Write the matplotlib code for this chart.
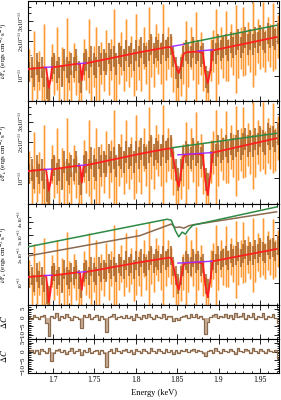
import numpy as np
import matplotlib
matplotlib.use('Agg')
import matplotlib.pyplot as plt
import matplotlib.transforms as mtransforms
from matplotlib.ticker import MultipleLocator, FixedLocator, FixedFormatter, LogLocator, NullFormatter

plt.rcParams['font.family'] = ['Liberation Serif', 'DejaVu Serif']
plt.rcParams['mathtext.fontset'] = 'stix'

# spectrum bins (flux in units of 1e-11 erg cm^-2 s^-1)
e_start = 1.6715
bin_w = 0.003

flux_a = [1.3, 0.9, 1.6, 1.0, 1.2, 0.8, 1.5, 0.7, 0.6, 1.4,
          1.1, 1.7, 0.9, 1.3, 1.0, 1.8, 1.2, 0.8, 1.4, 1.1,
          0.8, 0.7, 1.5, 1.2, 1.9, 1.0, 1.3, 1.6, 0.9, 1.4,
          1.2, 1.8, 1.1, 1.5, 2.2, 1.0, 1.4, 1.7, 1.2, 2.0,
          1.3, 1.6, 1.1, 2.1, 1.5, 1.2, 1.9, 1.4, 2.3, 1.6,
          1.3, 2.0, 1.7, 1.4, 2.4, 1.5, 1.9, 1.6, 1.2, 0.9,
          0.8, 1.1, 1.4, 1.8, 1.3, 1.9, 1.5, 2.1, 1.4, 1.7,
          1.2, 0.8, 0.7, 1.5, 1.8, 2.2, 1.4, 1.9, 1.6, 2.3,
          1.5, 2.0, 1.7, 2.4, 1.6, 1.9, 2.5, 1.7, 2.1, 1.8,
          2.6, 1.7, 2.2, 1.9, 2.8, 1.8, 2.3, 2.0, 2.7, 1.9, 2.4]
err_a = [0.40, 0.35, 0.85, 0.38, 0.45, 0.33, 1.30, 0.30, 0.28, 0.50,
         0.42, 0.95, 0.35, 0.48, 0.40, 1.40, 0.45, 0.33, 0.52, 0.42,
         0.33, 0.30, 0.58, 0.45, 1.20, 0.40, 0.50, 1.05, 0.36, 0.55,
         0.46, 0.70, 0.42, 0.58, 1.60, 0.40, 0.55, 0.68, 0.47, 1.10,
         0.50, 0.62, 0.44, 1.35, 0.58, 0.47, 0.76, 0.55, 1.70, 0.62,
         0.50, 0.80, 0.66, 0.55, 1.80, 0.58, 0.76, 0.62, 0.48, 0.36,
         0.33, 0.44, 0.55, 1.20, 0.50, 0.76, 0.58, 1.50, 0.55, 0.68,
         0.47, 0.33, 0.30, 0.60, 0.72, 1.60, 0.55, 0.76, 0.64, 1.40,
         0.60, 0.80, 0.68, 1.70, 0.64, 0.76, 1.50, 0.68, 0.85, 0.72,
         1.80, 0.68, 0.90, 0.76, 1.60, 0.72, 0.95, 0.80, 1.60, 0.76, 0.98]
flux_b = [1.1, 1.2, 1.0, 1.3, 1.1, 1.2, 1.0, 0.8, 0.75, 1.2,
          1.3, 1.1, 1.2, 1.0, 1.4, 1.2, 1.1, 1.3, 1.2, 1.4,
          1.1, 0.9, 1.3, 1.4, 1.2, 1.5, 1.3, 1.2, 1.5, 1.3,
          1.4, 1.3, 1.6, 1.4, 1.5, 1.3, 1.6, 1.5, 1.4, 1.7,
          1.5, 1.6, 1.4, 1.7, 1.5, 1.8, 1.6, 1.5, 1.7, 1.9,
          1.6, 1.8, 1.7, 1.6, 1.9, 1.7, 1.8, 1.9, 1.5, 1.2,
          1.0, 1.2, 1.5, 1.7, 1.6, 1.5, 1.8, 1.6, 1.7, 1.5,
          1.6, 1.0, 0.9, 1.4, 1.7, 1.6, 1.9, 1.7, 1.8, 1.9,
          1.7, 2.0, 1.8, 1.9, 2.1, 1.8, 2.0, 2.2, 1.9, 2.1,
          1.9, 2.2, 2.0, 2.3, 2.1, 2.0, 2.4, 2.2, 2.3, 2.1, 2.4]
err_b = [0.22, 0.25, 0.20, 0.28, 0.22, 0.25, 0.20, 0.18, 0.17, 0.26,
         0.27, 0.23, 0.25, 0.21, 0.30, 0.25, 0.23, 0.28, 0.25, 0.30,
         0.23, 0.19, 0.28, 0.30, 0.25, 0.32, 0.28, 0.25, 0.32, 0.28,
         0.30, 0.28, 0.34, 0.30, 0.32, 0.28, 0.34, 0.32, 0.30, 0.36,
         0.32, 0.34, 0.30, 0.36, 0.32, 0.38, 0.34, 0.32, 0.36, 0.40,
         0.34, 0.38, 0.36, 0.34, 0.40, 0.36, 0.38, 0.40, 0.32, 0.26,
         0.22, 0.26, 0.32, 0.36, 0.34, 0.32, 0.38, 0.34, 0.36, 0.32,
         0.34, 0.22, 0.20, 0.30, 0.36, 0.34, 0.40, 0.36, 0.38, 0.40,
         0.36, 0.42, 0.38, 0.40, 0.44, 0.38, 0.42, 0.46, 0.40, 0.44,
         0.40, 0.46, 0.42, 0.48, 0.44, 0.42, 0.50, 0.46, 0.48, 0.44, 0.50]

resid_1 = [0.5, -0.8, 1.2, 0.3, -1.0, 0.8, 1.5, -3.0, -10.5, 1.0,
           -0.5, 2.5, -1.2, 0.6, -0.4, 1.8, 0.2, -1.5, 0.9, 0.4,
           -1.0, -6.0, 1.4, 0.2, 2.0, -0.8, 0.5, 1.2, -1.3, 0.7,
           -0.6, -8.0, 0.3, 0.8, 2.2, -1.1, 0.4, 1.0, -0.5, 1.6,
           -0.3, 0.7, -1.4, 1.9, 0.2, -0.6, 1.3, -0.2, 2.1, 0.5,
           -0.7, 1.5, 0.3, -0.4, 2.0, -0.9, 0.6, 1.1, -1.8, -0.5,
           -1.2, 0.4, 0.8, 1.4, -0.3, 1.7, 0.2, 1.9, -0.4, 0.9,
           -0.6, -9.0, -2.5, 0.5, 1.3, 2.2, -0.5, 1.1, 0.4, 2.0,
           -0.3, 1.4, -1.0, 2.3, 0.2, 0.8, 2.4, -0.6, 1.2, 0.3,
           2.5, -0.8, 1.0, 0.4, 2.6, -0.9, 0.9, 0.2, 2.2, -0.4, -3.0]
resid_2 = [0.3, 1.0, -0.6, 0.8, -1.2, 1.4, 0.2, -0.8, 1.8, -5.5,
           -1.0, 0.6, 1.5, -0.4, 0.9, -1.3, 0.5, 2.0, -0.7, 0.3,
           1.2, -2.0, 0.6, -0.5, 1.7, -0.9, 0.4, 1.1, -1.4, 0.6,
           -0.8, -8.5, 0.5, 1.2, -0.6, 1.9, 0.3, -1.0, 0.8, 1.4,
           -0.5, 0.9, -1.2, 1.6, 0.4, -0.8, 1.2, 0.1, -1.1, 1.8,
           0.3, -0.6, 1.4, 0.2, -0.9, 1.6, -0.3, 0.8, -1.5, 0.6,
           -0.8, 0.9, 0.3, 1.3, -0.5, 0.7, 1.5, -0.4, 0.9, 0.2,
           -1.0, -2.5, 0.4, 1.0, -0.6, 1.8, 0.3, -0.7, 1.2, 0.5,
           -0.4, 1.6, 0.2, -1.2, 1.9, 0.4, -0.5, 1.3, 0.6, -0.9,
           1.7, 0.3, -0.6, 1.4, 0.5, -1.0, 1.5, 0.2, -0.3, 1.1, -3.5]

# model curves
red_e = [1.670, 1.690, 1.692, 1.694, 1.695, 1.697, 1.699, 1.730, 1.733, 1.735,
         1.737, 1.740, 1.805, 1.840, 1.843, 1.846, 1.850, 1.852, 1.855, 1.858,
         1.861, 1.875, 1.881, 1.884, 1.887, 1.890, 1.893, 1.970]
red_v1 = [1.14, 1.18, 1.17, 0.90, 0.78, 0.90, 1.18, 1.27, 1.25, 0.91,
          1.25, 1.28, 1.60, 1.78, 1.76, 1.45, 1.12, 1.05, 1.25, 1.55,
          1.60, 1.62, 1.58, 1.05, 0.86, 1.10, 1.66, 2.17]
red_v2 = [1.14, 1.18, 1.17, 0.90, 0.78, 0.90, 1.18, 1.27, 1.25, 0.91,
          1.25, 1.28, 1.60, 1.78, 1.76, 1.40, 0.95, 0.84, 1.15, 1.52,
          1.58, 1.60, 1.56, 0.95, 0.72, 1.05, 1.64, 2.17]
red_v3 = [1.14, 1.18, 1.16, 0.80, 0.64, 0.80, 1.18, 1.27, 1.24, 0.85,
          1.24, 1.28, 1.60, 1.78, 1.76, 1.40, 0.95, 0.85, 1.15, 1.52,
          1.58, 1.60, 1.56, 0.95, 0.72, 1.05, 1.64, 2.17]

purple_e = [[1.690, 1.699], [1.730, 1.740]]
purple_v = [[1.18, 1.19], [1.27, 1.29]]
purple1_e = [[1.844, 1.859], [1.875, 1.893]]
purple1_v = [[1.80, 1.88], [1.64, 1.68]]
purple2_e = [1.851, 1.892]
purple2_v = [1.57, 1.64]

green1_e = [1.859, 1.970]
green1_v = [1.90, 2.75]
green2_e = [1.843, 1.970]
green2_v = [1.80, 2.39]
green3_e = [1.670, 1.805, 1.838, 1.843, 1.848, 1.852, 1.856, 1.860, 1.864, 1.869, 1.970]
green3_v = [2.28, 3.80, 4.30, 4.20, 3.30, 2.87, 3.20, 3.05, 3.40, 3.75, 5.70]
brown3_e = [1.670, 1.805, 1.843, 1.848, 1.853, 1.858, 1.864, 1.869, 1.970]
brown3_v = [1.85, 2.95, 3.85, 3.55, 3.60, 3.50, 3.70, 3.78, 5.10]

energy = e_start + bin_w * np.arange(len(flux_a))
fa, ea = np.array(flux_a) * 1e-11, np.array(err_a) * 1e-11
fb, eb = np.array(flux_b) * 1e-11, np.array(err_b) * 1e-11
sc = 1e-11

fig = plt.figure(figsize=(2.81, 4.0), dpi=100)
left, width = 0.0996, 0.8934
ax1 = fig.add_axes([left, 0.7475, width, 0.2505])
ax2 = fig.add_axes([left, 0.49, width, 0.2575])
ax3 = fig.add_axes([left, 0.2375, width, 0.2525])
ax4 = fig.add_axes([left, 0.1525, width, 0.085])
ax5 = fig.add_axes([left, 0.0675, width, 0.085])

ylabel = r'$\nu$F$_\nu$ (ergs cm$^{-2}$ s$^{-1}$)'

def style(ax):
    ax.set_xlim(1.67, 1.973)
    ax.xaxis.set_major_locator(MultipleLocator(0.05))
    ax.xaxis.set_minor_locator(MultipleLocator(0.01))
    ax.tick_params(which='both', direction='in', top=True, right=True, width=0.6, labelsize=5.5, pad=2)
    ax.tick_params(which='major', length=3.5)
    ax.tick_params(which='minor', length=1.8)
    for s in ax.spines.values():
        s.set_linewidth(0.8)

def draw_data(ax):
    ax.vlines(energy, fa - ea, fa + ea, color='#ffd2a6', lw=1.8)
    ax.vlines(energy, fa - ea, fa + ea, color='#ff9a30', lw=0.7)
    ax.vlines(energy, fb - eb, fb + eb, color='#a8652a', lw=1.5, alpha=0.8)

def flux_axis(ax, lo, hi, ticks, labels, size=4.5):
    ax.set_yscale('log')
    ax.set_ylim(lo, hi)
    ax.yaxis.set_major_locator(FixedLocator(ticks))
    ax.yaxis.set_major_formatter(FixedFormatter(labels))
    ax.yaxis.set_minor_locator(LogLocator(subs=np.arange(2, 10) * 0.5))
    ax.yaxis.set_minor_formatter(NullFormatter())
    ax.tick_params(axis='y', labelsize=size, pad=1.5)
    plt.setp(ax.get_yticklabels(), rotation=90, va='center')
    ax.set_ylabel(ylabel, fontsize=5)
    ax.yaxis.set_label_coords(-0.075, 0.5)
    ax.tick_params(labelbottom=False)

lab3 = [r'10$^{-11}$', r'2x10$^{-11}$', r'3x10$^{-11}$']
lab4 = lab3 + [r'4x10$^{-11}$']

for ax, red_v in [(ax1, red_v1), (ax2, red_v2), (ax3, red_v3)]:
    style(ax)
    draw_data(ax)
    ax.plot(red_e, np.array(red_v) * sc, color='#ff1f1f', lw=1.3, zorder=4)
    for pe, pv in zip(purple_e, purple_v):
        ax.plot(pe, np.array(pv) * sc, color='#9b30ff', lw=1.0, zorder=5)

for pe, pv in zip(purple1_e, purple1_v):
    ax1.plot(pe, np.array(pv) * sc, color='#9b30ff', lw=1.0, zorder=5)
ax1.plot(green1_e, np.array(green1_v) * sc, color='#2e8b45', lw=1.1, zorder=5)
flux_axis(ax1, 0.6e-11, 4.5e-11, [1e-11, 2e-11, 3e-11], lab3)

ax2.plot(purple2_e, np.array(purple2_v) * sc, color='#9b30ff', lw=1.0, zorder=5)
ax2.plot(green2_e, np.array(green2_v) * sc, color='#2e8b45', lw=1.1, zorder=5)
flux_axis(ax2, 0.6e-11, 4.5e-11, [1e-11, 2e-11, 3e-11], lab3)

ax3.plot(purple2_e, np.array(purple2_v) * sc, color='#9b30ff', lw=1.0, zorder=5)
ax3.plot(brown3_e, np.array(brown3_v) * sc, color='#8b6a4e', lw=1.1, zorder=5)
ax3.plot(green3_e, np.array(green3_v) * sc, color='#2e8b45', lw=1.1, zorder=5)
flux_axis(ax3, 0.6e-11, 6.1e-11, [1e-11, 2e-11, 3e-11, 4e-11], lab4, size=3.7)

# the 3x and 4x labels sit close together, nudge them apart
shifts = [0, -1.5, -1.5, 2.5]
for tick, dy in zip(ax3.yaxis.get_major_ticks(), shifts):
    off = mtransforms.ScaledTranslation(0, dy / 72, fig.dpi_scale_trans)
    tick.label1.set_transform(tick.label1.get_transform() + off)

for ax, res in [(ax4, resid_1), (ax5, resid_2)]:
    style(ax)
    ax.fill_between(energy, 0, res, step='mid', color='#c9b09a', lw=0)
    ax.step(energy, res, where='mid', color='#8b6a4e', lw=0.9)
    ax.set_ylim(-12, 7)
    ax.yaxis.set_major_locator(FixedLocator([-10, -5, 0, 5]))
    ax.yaxis.set_minor_locator(MultipleLocator(1))
    ax.tick_params(axis='y', labelsize=5, pad=1.5)
    plt.setp(ax.get_yticklabels(), rotation=90, va='center')
    ax.set_ylabel(r'$\Delta C$', fontsize=6)
    ax.yaxis.set_label_coords(-0.075, 0.5)

ax4.tick_params(labelbottom=False)
ax5.set_xticks([1.7, 1.75, 1.8, 1.85, 1.9, 1.95])
ax5.set_xticklabels(['1.7', '1.75', '1.8', '1.85', '1.9', '1.95'])
ax5.set_xlim(1.67, 1.973)
ax5.set_xlabel('Energy (keV)', fontsize=6, labelpad=4)

fig.savefig('out.png', dpi=100)
